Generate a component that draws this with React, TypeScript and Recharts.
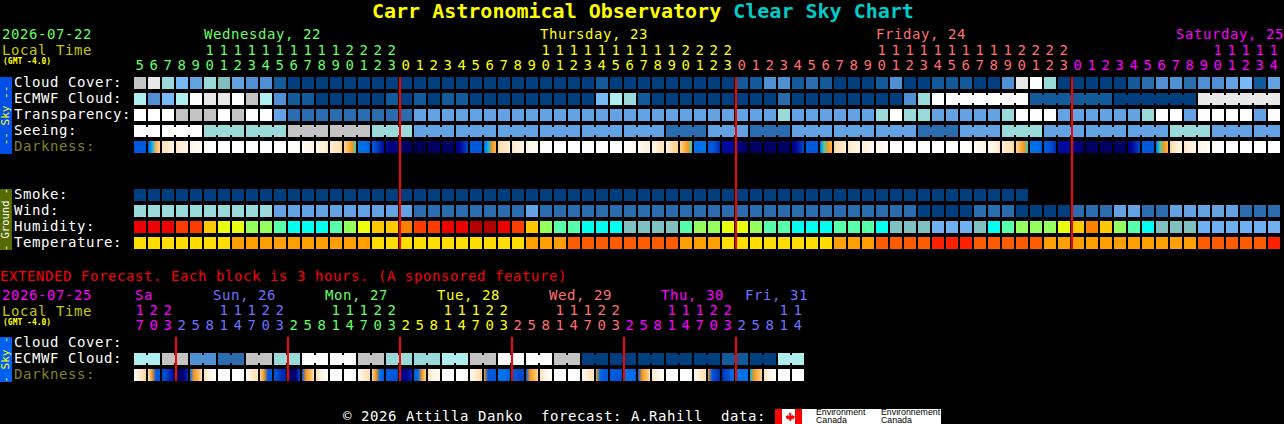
import { ScatterChart, Scatter, XAxis, YAxis, ReferenceLine } from 'recharts'

const W = 1284
const H = 424
const MONO = '"DejaVu Sans Mono", monospace'
const TEXT = { fontFamily: MONO, fontSize: 14, letterSpacing: 0.57 }

// cloud, transparency, seeing and wind all share this blue to white scale
const skyScale = ['#003F7F', '#135A9A', '#2B6CAE', '#4F8FD3', '#63A3E3', '#76B8F8', '#AFEEEE', '#99D9D9', '#80BEBE', '#C3C3C3', '#E8E8E8', '#FFFFFF']
const humidityScale = ['#B00000', '#EE0000', '#FF3C00', '#FF8000', '#FFC800', '#EAFF10', '#96FF60', '#58FFAA', '#00FFEE', '#80C0C0', '#70B0F0']
const tempScale = ['#FFDD00', '#FFA000', '#FF5C00', '#FF2000']
const darkScale = ['#FFFFFF', '#FFF8EE', '#FFF0DC', '#FFE4BE', '#FFD496', '#FFB450', '#F09820', '#40D0B0', '#00B0F0', '#0070E8', '#0058DC', '#0048C8', '#0028B0', '#0008A0', '#000080', '#000060', '#000050']

const hours = [
  5, 6, 7, 8, 9, 10, 11, 12, 13, 14, 15, 16, 17, 18, 19, 20, 21, 22, 23,
  0, 1, 2, 3, 4, 5, 6, 7, 8, 9, 10, 11, 12, 13, 14, 15, 16, 17, 18, 19, 20, 21, 22, 23,
  0, 1, 2, 3, 4, 5, 6, 7, 8, 9, 10, 11, 12, 13, 14, 15, 16, 17, 18, 19, 20, 21, 22, 23,
  0, 1, 2, 3, 4, 5, 6, 7, 8, 9, 10, 11, 12, 13, 14,
]
const cloudCover = [
  9, 10, 7, 5, 4, 7, 8, 4, 3, 3,
  1, 0, 0, 0, 0, 0, 0, 0, 0, 0,
  0, 0, 0, 0, 0, 0, 0, 0, 0, 0,
  0, 0, 0, 1, 0, 0, 0, 0, 0, 0,
  0, 0, 0, 1, 1, 3, 3, 1, 2, 1,
  0, 0, 0, 1, 3, 0, 0, 1, 1, 1,
  0, 0, 3, 10, 11, 7, 0, 0, 0, 0,
  0, 1, 2, 3, 3, 2, 3, 3, 4, 5, 1, 4,
]
const ecmwfCloud = [
  6, 3, 5, 6, 11, 10, 10, 11, 9, 6,
  3, 1, 1, 0, 0, 0, 0, 0, 1, 0,
  1, 0, 1, 1, 0, 0, 0, 0, 0, 0,
  0, 0, 0, 5, 6, 7, 1, 0, 0, 0,
  0, 0, 0, 0, 0, 0, 2, 0, 0, 0,
  0, 0, 0, 0, 0, 3, 7, 11, 11, 11,
  11, 11, 11, 11, 1, 1, 1, 1, 1, 1,
  0, 0, 0, 0, 0, 0, 10, 10, 10, 10, 10, 10,
]
const transparency = [
  11, 11, 11, 9, 9, 9, 11, 9, 11, 11,
  4, 2, 2, 2, 2, 2, 2, 2, 2, 2,
  4, 4, 4, 4, 4, 4, 4, 4, 4, 4,
  4, 4, 4, 4, 4, 4, 4, 4, 4, 4,
  4, 4, 4, 4, 4, 4, 7, 4, 4, 4,
  4, 4, 4, 7, 11, 7, 7, 4, 4, 4,
  4, 4, 7, 11, 11, 11, 4, 4, 4, 4,
  4, 4, 7, 11, 11, 4, 11, 11, 11, 11, 4, 11,
]
const seeing = [
  11, 11, 11, 11, 11, 7, 7, 7, 7, 7,
  7, 9, 9, 9, 9, 9, 9, 7, 7, 7,
  4, 4, 4, 4, 4, 4, 4, 4, 4, 4,
  4, 4, 4, 4, 4, 4, 4, 4, 2, 2,
  2, 4, 4, 4, 2, 2, 2, 4, 4, 4,
  4, 4, 4, 4, 4, 4, 2, 2, 2, 4,
  4, 4, 7, 7, 7, 4, 4, 4, 4, 4,
  4, 4, 4, 4, 7, 7, 7, 4, 4, 4, 4, 4,
]
const darkness = [
  [10, 10, 10, 10], [10, 8, 5, 4], [3, 3, 2, 2], [3, 2, 2, 1], [2, 1, 1, 0], [1, 0, 0, 0], [0, 0, 0, 0], [0, 0, 0, 0], [0, 0, 0, 0], [0, 0, 0, 0],
  [0, 0, 0, 0], [0, 0, 0, 1], [0, 1, 1, 2], [1, 2, 2, 3], [2, 3, 3, 4], [4, 5, 6, 7], [9, 9, 9, 10], [10, 11, 12, 13], [13, 14, 14, 14], [14, 15, 15, 15],
  [15, 16, 16, 16], [15, 15, 15, 15], [15, 15, 15, 15], [14, 13, 12, 11], [10, 10, 10, 10], [9, 8, 6, 5], [4, 3, 3, 2], [3, 2, 2, 1], [2, 1, 1, 1], [1, 0, 0, 0],
  [0, 0, 0, 0], [0, 0, 0, 0], [0, 0, 0, 0], [0, 0, 0, 0], [0, 0, 0, 0], [0, 0, 1, 1], [0, 1, 2, 2], [1, 2, 3, 3], [2, 3, 4, 4], [4, 5, 6, 7],
  [9, 9, 9, 9], [10, 10, 11, 12], [13, 13, 13, 13], [14, 14, 15, 15], [15, 15, 15, 15], [15, 15, 15, 15], [15, 15, 15, 15], [14, 13, 12, 11], [10, 10, 10, 10], [9, 7, 6, 5],
  [4, 3, 3, 2], [3, 2, 2, 1], [2, 2, 1, 1], [1, 1, 1, 0], [0, 0, 0, 0], [0, 0, 0, 0], [0, 0, 0, 0], [0, 0, 0, 0], [0, 0, 0, 0], [0, 0, 0, 1],
  [0, 1, 1, 2], [1, 1, 2, 3], [2, 3, 3, 4], [4, 5, 6, 7], [9, 9, 9, 10], [10, 10, 11, 12], [13, 13, 13, 13], [14, 14, 14, 15], [15, 15, 15, 15], [15, 15, 15, 15],
  [15, 15, 15, 15], [14, 13, 12, 11], [10, 10, 10, 10], [9, 7, 6, 5], [4, 3, 2, 2], [3, 2, 2, 1], [2, 1, 1, 0], [1, 0, 0, 0], [0, 0, 0, 0], [0, 0, 0, 0], [0, 0, 0, 0], [0, 0, 0, 0],
]
const smoke = [
  0, 0, 0, 0, 0, 0, 0, 0, 0, 0, 0, 0, 0, 0, 0, 0,
  0, 0, 0, 0, 0, 0, 0, 0, 0, 0, 0, 0, 0, 0, 0, 0,
  0, 0, 0, 0, 0, 0, 0, 0, 0, 0, 0, 0, 0, 0, 0, 0,
  0, 0, 0, 0, 0, 0, 0, 0, 0, 0, 0, 0, 0, 0, 0, 0,
]
const wind = [
  7, 7, 7, 7, 7, 7, 7, 7, 7, 7,
  4, 4, 4, 4, 4, 4, 4, 4, 4, 4,
  2, 2, 2, 2, 2, 2, 2, 2, 4, 2,
  2, 2, 2, 2, 2, 2, 2, 2, 2, 2,
  2, 2, 2, 2, 2, 2, 2, 2, 2, 2,
  2, 2, 2, 2, 2, 2, 0, 0, 0, 0,
  2, 2, 2, 0, 0, 0, 0, 2, 2, 2,
  4, 4, 2, 2, 4, 4, 4, 4, 4, 2, 2, 2,
]
const humidity = [
  1, 1, 1, 2, 2, 4, 5, 5, 6, 6,
  7, 8, 8, 8, 7, 6, 5, 4, 4, 3,
  2, 2, 1, 1, 0, 0, 1, 2, 4, 6,
  7, 7, 8, 8, 8, 9, 9, 9, 9, 7,
  6, 6, 5, 5, 6, 7, 7, 8, 8, 8,
  7, 7, 7, 8, 9, 9, 9, 10, 10, 10,
  9, 8, 7, 6, 6, 6, 5, 4, 3, 4,
  6, 7, 8, 9, 9, 9, 10, 10, 10, 10, 10, 10,
]
const temperature = [
  0, 0, 0, 0, 0, 0, 0, 1, 1, 1,
  1, 1, 1, 1, 1, 1, 1, 0, 0, 0,
  0, 0, 0, 0, 0, 0, 0, 0, 1, 1,
  1, 2, 2, 2, 2, 2, 2, 2, 2, 1,
  1, 1, 0, 0, 0, 0, 0, 0, 0, 0,
  1, 1, 1, 2, 2, 2, 2, 3, 3, 3,
  2, 2, 2, 2, 2, 1, 1, 1, 1, 1,
  1, 1, 1, 1, 1, 1, 2, 2, 2, 2, 2, 3,
]

const extHours = [
  17, 20, 23,
  2, 5, 8, 11, 14, 17, 20, 23,
  2, 5, 8, 11, 14, 17, 20, 23,
  2, 5, 8, 11, 14, 17, 20, 23,
  2, 5, 8, 11, 14, 17, 20, 23,
  2, 5, 8, 11, 14, 17, 20, 23,
  2, 5, 8, 11, 14,
]
const extEcmwf = [6, 9, 3, 2, 9, 7, 11, 11, 9, 7, 7, 6, 9, 11, 11, 9, 0, 0, 0, 0, 0, 1, 0, 6]
const extDarkness = [
  [0, 2, 3, 4], [3, 6, 10, 10], [11, 11, 12, 13], [15, 15, 14, 12], [9, 6, 5, 3], [3, 2, 1, 0], [0, 0, 0, 0], [0, 0, 0, 0],
  [1, 2, 3, 3], [4, 6, 10, 10], [10, 11, 12, 12], [14, 15, 14, 11], [10, 6, 5, 3], [3, 2, 1, 0], [0, 0, 0, 0], [0, 0, 0, 0],
  [1, 2, 3, 3], [4, 6, 9, 10], [10, 10, 10, 11], [13, 14, 13, 12], [10, 9, 6, 4], [3, 2, 1, 1], [0, 0, 0, 0], [0, 0, 0, 0],
  [1, 2, 3, 4], [6, 10, 10, 10], [9, 9, 9, 10], [10, 10, 11, 11], [10, 6, 5, 4], [3, 2, 1, 0], [0, 0, 0, 0], [0, 0, 0, 0],
  [1, 2, 3, 3], [6, 9, 10, 10], [10, 10, 10, 11], [9, 9, 9, 10], [10, 6, 5, 3], [2, 2, 1, 0], [0, 0, 0, 0], [0, 0, 0, 0],
  [1, 2, 3, 3], [6, 10, 11, 12], [12, 11, 10, 9], [9, 9, 9, 9], [8, 6, 5, 4], [3, 2, 1, 0], [0, 0, 0, 0], [0, 0, 0, 0],
]

const GREEN = '#66FF66'
const YELLOW = '#FFFF00'
const SALMON = '#FF7070'
const MAGENTA = '#FF00FF'
const PERIWINKLE = '#7070FF'
const OLIVE = '#808020'

const dayLabels = [
  { col: 5, text: 'Wednesday, 22' },
  { col: 29, text: 'Thursday, 23' },
  { col: 53, text: 'Friday, 24' },
  { col: 77, text: 'Saturday, 25' },
]
const dayStarts = [
  { col: 0, color: GREEN },
  { col: 19, color: YELLOW },
  { col: 43, color: SALMON },
  { col: 67, color: MAGENTA },
]
const extDayLabels = [
  { col: 0, text: 'Sa', dx: -5 },
  { col: 5, text: 'Sun, 26', dx: 3 },
  { col: 13, text: 'Mon, 27', dx: 3 },
  { col: 21, text: 'Tue, 28', dx: 3 },
  { col: 29, text: 'Wed, 29', dx: 3 },
  { col: 37, text: 'Thu, 30', dx: 3 },
  { col: 43, text: 'Fri, 31', dx: 3 },
]
const extDayStarts = [
  { col: 0, color: MAGENTA },
  { col: 3, color: PERIWINKLE },
  { col: 11, color: GREEN },
  { col: 19, color: YELLOW },
  { col: 27, color: SALMON },
  { col: 35, color: MAGENTA },
  { col: 43, color: PERIWINKLE },
]
const midnights = [19, 43, 67]
const extMidnights = [3, 11, 19, 27, 35, 43]

const rowLabels: Record<number, { text: string; color: string }> = {
  0: { text: 'Cloud Cover:', color: '#fff' },
  1: { text: 'ECMWF Cloud:', color: '#fff' },
  2: { text: 'Transparency:', color: '#fff' },
  3: { text: 'Seeing:', color: '#fff' },
  4: { text: 'Darkness:', color: OLIVE },
  7: { text: 'Smoke:', color: '#fff' },
  8: { text: 'Wind:', color: '#fff' },
  9: { text: 'Humidity:', color: '#fff' },
  10: { text: 'Temperature:', color: '#fff' },
}
const extRowLabels: Record<number, { text: string; color: string }> = {
  0: { text: 'Cloud Cover:', color: '#fff' },
  1: { text: 'ECMWF Cloud:', color: '#fff' },
  2: { text: 'Darkness:', color: OLIVE },
}

type CellDatum = { col: number; row: number; fill?: string; stops?: string[]; joined?: boolean }

const solidCells = (values: number[], row: number, scale: string[], joined?: (col: number) => boolean): CellDatum[] =>
  values.map((v, col) => ({ col, row, fill: scale[v], joined: joined ? joined(col) : false }))

const darkCells = (values: number[][], row: number): CellDatum[] =>
  values.map((v, col) => ({ col, row, stops: v.map((d) => darkScale[d]) }))

// seeing comes in 3 hour blocks, the first one is cut short by the chart start
const seeingJoined = (col: number) => col < 81 && (col - 1) % 3 !== 0
// ECMWF goes to 6 hour blocks late in the run
const ecmwfJoined = (col: number) => col >= 58 && col < 81 && (col - 57) % 6 !== 0

const colorAt = (col: number, starts: { col: number; color: string }[]) => {
  let color = starts[0].color
  for (const s of starts) if (col >= s.col) color = s.color
  return color
}

function Cell(props: any) {
  const { cx, cy, payload } = props
  const x = cx - 6
  const y = cy - 6
  const id = `dark-${payload.row}-${payload.col}-${Math.round(cy)}`
  return (
    <g>
      {payload.stops && (
        <linearGradient id={id} x1="0" y1="0" x2="1" y2="0">
          {payload.stops.map((c: string, i: number) => (
            <stop key={i} offset={i / (payload.stops.length - 1)} stopColor={c} />
          ))}
        </linearGradient>
      )}
      <rect x={x} y={y} width={12} height={12} fill={payload.stops ? `url(#${id})` : payload.fill} />
      {payload.joined && <rect x={x + 12} y={y + 2} width={2} height={8} fill={payload.fill} />}
    </g>
  )
}

const hourTick = (
  hourList: number[],
  starts: { col: number; color: string }[],
  days: { col: number; text: string; dx?: number }[],
  dayY: number,
  tensY: number,
  unitsY: number,
) =>
  function HourTick({ x, payload }: any) {
    const col = payload.value
    const hour = hourList[col]
    const color = colorAt(col, starts)
    const day = days.find((d) => d.col === col)
    return (
      <g>
        {day && (
          <text x={Math.min(x + (day.dx ?? -6), W - day.text.length * 9)} y={dayY} fill={color} {...TEXT}>
            {day.text}
          </text>
        )}
        {hour >= 10 && (
          <text x={x} y={tensY} fill={color} textAnchor="middle" {...TEXT}>
            {Math.floor(hour / 10)}
          </text>
        )}
        <text x={x} y={unitsY} fill={color} textAnchor="middle" {...TEXT}>
          {hour % 10}
        </text>
      </g>
    )
  }

const rowTick = (labels: Record<number, { text: string; color: string }>) =>
  function RowTick({ y, payload }: any) {
    const label = labels[payload.value]
    return (
      <text x={14} y={y + 4} fill={label.color} {...TEXT}>
        {label.text}
      </text>
    )
  }

function SideLabels({ date, color, y }: { date: string; color: string; y: number }) {
  return (
    <g>
      <text x={2} y={y} fill={color} {...TEXT}>{date}</text>
      <text x={2} y={y + 16} fill="#C8C800" {...TEXT}>Local Time</text>
      <text x={3} y={y + 25} fill={YELLOW} fontFamily={MONO} fontSize={8} fontWeight="bold">(GMT -4.0)</text>
    </g>
  )
}

function Band({ y, height, fill, color, text, size }: any) {
  const cy = y + height / 2
  return (
    <g>
      <rect x={0} y={y} width={12} height={height} fill={fill} />
      <text x={9} y={cy} fill={color} fontFamily={MONO} fontSize={size} textAnchor="middle" transform={`rotate(-90 9 ${cy})`}>
        {text}
      </text>
    </g>
  )
}

function Logo() {
  return (
    <g>
      <rect x={775} y={409} width={166} height={15} fill="#fff" />
      <rect x={775} y={409} width={7} height={15} fill="#FF0000" />
      <rect x={795} y={409} width={7} height={15} fill="#FF0000" />
      <path d="M788.5 411l1.5 2.5 1.5-.5-.5 3 2-1 .5 1 1.500 0-1.500 3-2.500 .5 0 1.500-1.500 0 0-1.500-2.500-.5-1.500-3 1.500 0 .5-1 2 1-.5-3 1.500 .5z" fill="#FF0000" />
      <g fontFamily="'Liberation Sans', sans-serif" fontSize={8.8} fill="#000">
        <text x={816} y={415}>Environment</text>
        <text x={816} y={423}>Canada</text>
        <text x={881} y={415}>Environnement</text>
        <text x={881} y={423}>Canada</text>
      </g>
    </g>
  )
}

const mainRows = [
  solidCells(cloudCover, 0, skyScale),
  solidCells(ecmwfCloud, 1, skyScale, ecmwfJoined),
  solidCells(transparency, 2, skyScale),
  solidCells(seeing, 3, skyScale, seeingJoined),
  darkCells(darkness, 4),
  solidCells(smoke, 7, skyScale),
  solidCells(wind, 8, skyScale),
  solidCells(humidity, 9, humidityScale),
  solidCells(temperature, 10, tempScale),
]
const extRows = [
  solidCells(extEcmwf.flatMap((v) => [v, v]), 1, skyScale, (col) => col % 2 === 0),
  darkCells(extDarkness, 2),
]

const layer = { position: 'absolute', left: 0, top: 0 } as const

export default function App() {
  return (
    <div style={{ position: 'fixed', left: 0, top: 0, width: W, height: H, background: '#000', overflow: 'hidden' }}>
      <div style={layer}>
        <ScatterChart width={W} height={H} margin={{ top: 0, right: 3, bottom: 175, left: 0 }}>
          <XAxis
            xAxisId={0}
            dataKey="col"
            type="number"
            orientation="top"
            height={77}
            domain={[-0.5, 81.5]}
            ticks={hours.map((_, i) => i)}
            interval={0}
            axisLine={false}
            tickLine={false}
            tick={hourTick(hours, dayStarts, dayLabels, 39, 55, 70)}
          />
          <YAxis
            yAxisId={0}
            dataKey="row"
            type="number"
            reversed
            width={133}
            domain={[-0.375, 10.375]}
            ticks={[0, 1, 2, 3, 4, 7, 8, 9, 10]}
            interval={0}
            axisLine={false}
            tickLine={false}
            tick={rowTick(rowLabels)}
          />
          {mainRows.map((data, i) => (
            <Scatter key={i} data={data} shape={Cell} isAnimationActive={false} />
          ))}
          {midnights.map((c) => (
            <ReferenceLine key={c} x={c - 6 / 14} stroke="#FF0000" strokeWidth={2} zIndex={900} />
          ))}
          <text x={372} y={18} fontFamily={MONO} fontSize={20} fontWeight="bold" fill={YELLOW}>
            Carr Astronomical Observatory <tspan fill="#00CCCC">Clear Sky Chart</tspan>
          </text>
          <SideLabels date="2026-07-22" color={GREEN} y={39} />
          <Band y={77} height={77} fill="#0050E8" color={YELLOW} text="-- Sky --" size={11} />
          <Band y={189} height={61} fill="#556B00" color="#fff" text="- Ground -" size={10.5} />
        </ScatterChart>
      </div>
      <div style={layer}>
        <ScatterChart width={W} height={H} margin={{ top: 265, right: 3, bottom: 43, left: 0 }}>
          <XAxis
            xAxisId={0}
            dataKey="col"
            type="number"
            orientation="top"
            height={72}
            domain={[-0.5, 81.5]}
            ticks={extHours.map((_, i) => i)}
            interval={0}
            axisLine={false}
            tickLine={false}
            tick={hourTick(extHours, extDayStarts, extDayLabels, 300, 315, 330)}
          />
          <YAxis
            yAxisId={0}
            dataKey="row"
            type="number"
            reversed
            width={133}
            domain={[-0.375, 2.375]}
            ticks={[0, 1, 2]}
            interval={0}
            axisLine={false}
            tickLine={false}
            tick={rowTick(extRowLabels)}
          />
          {extRows.map((data, i) => (
            <Scatter key={i} data={data} shape={Cell} isAnimationActive={false} />
          ))}
          {extMidnights.map((c) => (
            <ReferenceLine key={c} x={c - 6 / 14} stroke="#FF0000" strokeWidth={2} zIndex={900} />
          ))}
          <text x={0} y={281} fill="#FF0000" {...TEXT}>
            EXTENDED Forecast. Each block is 3 hours. (A sponsored feature)
          </text>
          <SideLabels date="2026-07-25" color={MAGENTA} y={300} />
          <Band y={337} height={45} fill="#0060F0" color={YELLOW} text="- Sky -" size={11} />
          <text x={343} y={421} fill="#fff" xmlSpace="preserve" style={{ whiteSpace: 'pre' }} {...TEXT}>
            © 2026 Attilla Danko  forecast: A.Rahill  data:
          </text>
          <Logo />
        </ScatterChart>
      </div>
    </div>
  )
}
